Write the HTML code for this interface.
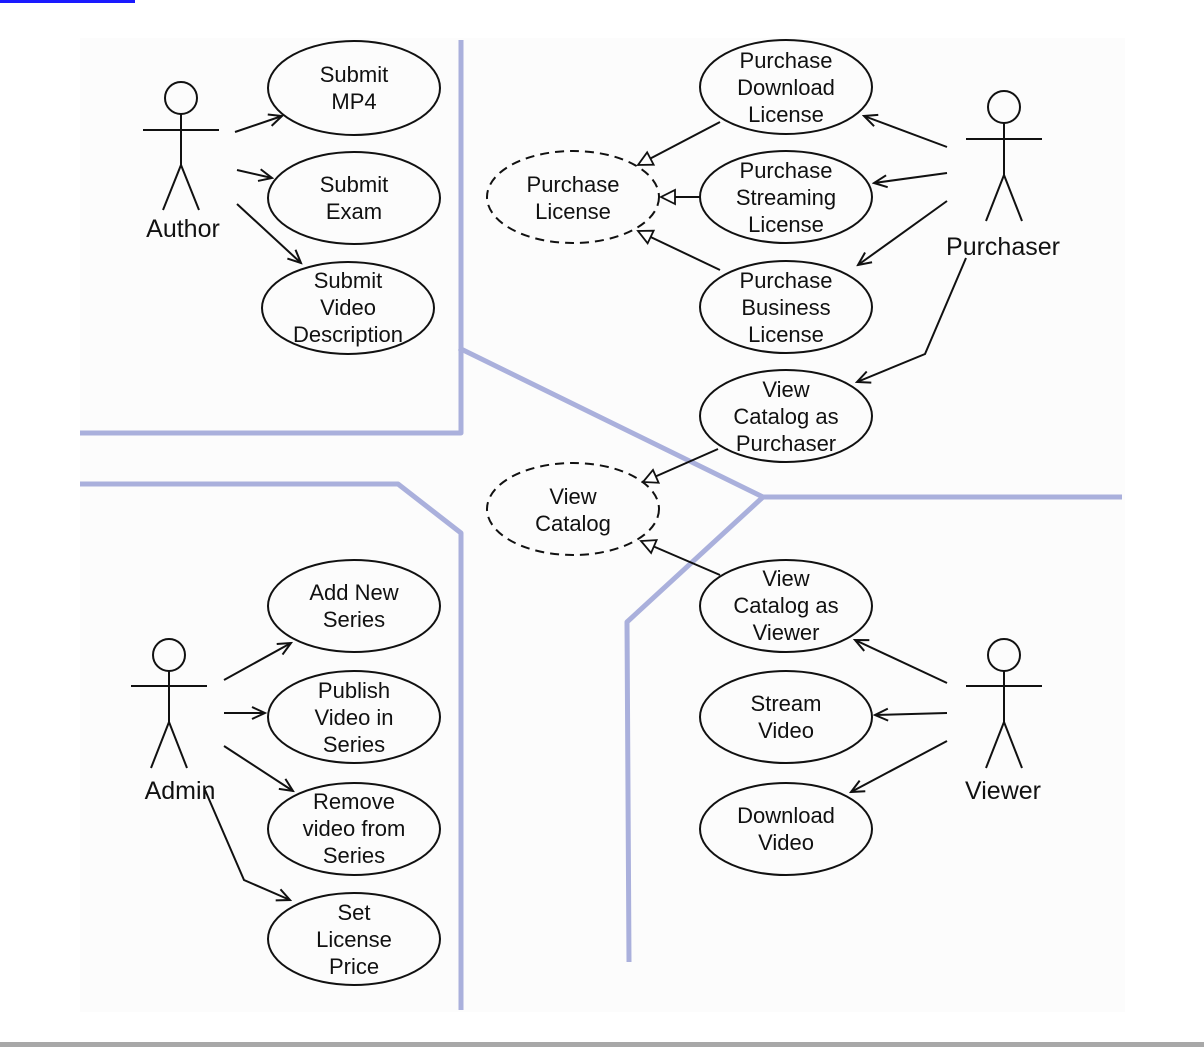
<!DOCTYPE html>
<html><head><meta charset="utf-8"><style>
html,body{margin:0;padding:0;background:#fff;width:1204px;height:1047px;overflow:hidden}
svg{position:absolute;left:0;top:0}
text{font-family:"Liberation Sans",Arial,sans-serif;font-size:22px;fill:#111;text-anchor:middle}
</style></head><body>
<svg width="1204" height="1047" viewBox="0 0 1204 1047">
<defs>
<marker id="o" markerWidth="16" markerHeight="16" refX="14" refY="8" orient="auto" markerUnits="userSpaceOnUse"><path d="M1,2 L14,8 L1,14" fill="none" stroke="#111" stroke-width="2"/></marker>
<marker id="t" markerWidth="18" markerHeight="18" refX="16" refY="9" orient="auto" markerUnits="userSpaceOnUse"><path d="M2,2 L16,9 L2,16 Z" fill="#fff" stroke="#111" stroke-width="1.8"/></marker>
</defs>
<rect x="0" y="0" width="135" height="3" fill="#1a1aff"/>
<rect x="80" y="38" width="1045" height="974" fill="#fcfcfc"/>
<rect x="0" y="1042" width="1204" height="5" fill="#a8a8a8"/>
<g stroke="#aab0dc" stroke-width="5" fill="none" stroke-linejoin="round">
<polyline points="461,40 461,433 80,433"/>
<polyline points="459,348 763,497 1122,497"/>
<polyline points="763,497 627,622 629,962"/>
<polyline points="80,484 398,484 461,533 461,1010"/>
</g>
<g fill="none" stroke="#111" stroke-width="2">
<ellipse cx="354" cy="88" rx="86" ry="47"/>
<ellipse cx="354" cy="198" rx="86" ry="46"/>
<ellipse cx="348" cy="308" rx="86" ry="46"/>
<ellipse cx="786" cy="87" rx="86" ry="47"/>
<ellipse cx="786" cy="197" rx="86" ry="46"/>
<ellipse cx="786" cy="307" rx="86" ry="46"/>
<ellipse cx="786" cy="416" rx="86" ry="46"/>
<ellipse cx="786" cy="606" rx="86" ry="46"/>
<ellipse cx="786" cy="717" rx="86" ry="46"/>
<ellipse cx="786" cy="829" rx="86" ry="46"/>
<ellipse cx="354" cy="606" rx="86" ry="46"/>
<ellipse cx="354" cy="717" rx="86" ry="46"/>
<ellipse cx="354" cy="829" rx="86" ry="46"/>
<ellipse cx="354" cy="939" rx="86" ry="46"/>
<ellipse cx="573" cy="197" rx="86" ry="46" stroke-dasharray="9,6"/>
<ellipse cx="573" cy="509" rx="86" ry="46" stroke-dasharray="9,6"/>
<!-- actors -->
<circle cx="181" cy="98" r="16"/><line x1="143" y1="130" x2="219" y2="130"/><line x1="181" y1="114" x2="181" y2="165"/><polyline points="163,210 181,165 199,210"/>
<circle cx="1004" cy="107" r="16"/><line x1="966" y1="139" x2="1042" y2="139"/><line x1="1004" y1="123" x2="1004" y2="175"/><polyline points="986,221 1004,175 1022,221"/>
<circle cx="169" cy="655" r="16"/><line x1="131" y1="686" x2="207" y2="686"/><line x1="169" y1="671" x2="169" y2="722"/><polyline points="151,768 169,722 187,768"/>
<circle cx="1004" cy="655" r="16"/><line x1="966" y1="686" x2="1042" y2="686"/><line x1="1004" y1="671" x2="1004" y2="722"/><polyline points="986,768 1004,722 1022,768"/>
<!-- associations -->
<line x1="235" y1="132" x2="282" y2="116" marker-end="url(#o)"/>
<line x1="237" y1="170" x2="272" y2="178" marker-end="url(#o)"/>
<line x1="237" y1="204" x2="301" y2="263" marker-end="url(#o)"/>
<line x1="947" y1="147" x2="864" y2="116" marker-end="url(#o)"/>
<line x1="947" y1="173" x2="874" y2="183" marker-end="url(#o)"/>
<line x1="947" y1="201" x2="858" y2="265" marker-end="url(#o)"/>
<polyline points="966,258 925,354 857,382" marker-end="url(#o)"/>
<line x1="224" y1="680" x2="291" y2="643" marker-end="url(#o)"/>
<line x1="224" y1="713" x2="265" y2="713" marker-end="url(#o)"/>
<line x1="224" y1="746" x2="293" y2="791" marker-end="url(#o)"/>
<polyline points="205,790 244,880 290,900" marker-end="url(#o)"/>
<line x1="947" y1="683" x2="855" y2="640" marker-end="url(#o)"/>
<line x1="947" y1="713" x2="875" y2="715" marker-end="url(#o)"/>
<line x1="947" y1="741" x2="851" y2="792" marker-end="url(#o)"/>
<!-- generalizations -->
<line x1="720" y1="122" x2="638" y2="165" marker-end="url(#t)"/>
<line x1="700" y1="197" x2="661" y2="197" marker-end="url(#t)"/>
<line x1="720" y1="270" x2="638" y2="231" marker-end="url(#t)"/>
<line x1="718" y1="449" x2="643" y2="482" marker-end="url(#t)"/>
<line x1="720" y1="575" x2="641" y2="541" marker-end="url(#t)"/>
</g>
<g>
<text x="354" y="82">Submit</text><text x="354" y="109">MP4</text>
<text x="354" y="192">Submit</text><text x="354" y="219">Exam</text>
<text x="348" y="288">Submit</text><text x="348" y="315">Video</text><text x="348" y="342">Description</text>
<text x="786" y="68">Purchase</text><text x="786" y="95">Download</text><text x="786" y="122">License</text>
<text x="786" y="178">Purchase</text><text x="786" y="205">Streaming</text><text x="786" y="232">License</text>
<text x="786" y="288">Purchase</text><text x="786" y="315">Business</text><text x="786" y="342">License</text>
<text x="786" y="397">View</text><text x="786" y="424">Catalog as</text><text x="786" y="451">Purchaser</text>
<text x="573" y="192">Purchase</text><text x="573" y="219">License</text>
<text x="573" y="504">View</text><text x="573" y="531">Catalog</text>
<text x="786" y="586">View</text><text x="786" y="613">Catalog as</text><text x="786" y="640">Viewer</text>
<text x="786" y="711">Stream</text><text x="786" y="738">Video</text>
<text x="786" y="823">Download</text><text x="786" y="850">Video</text>
<text x="354" y="600">Add New</text><text x="354" y="627">Series</text>
<text x="354" y="698">Publish</text><text x="354" y="725">Video in</text><text x="354" y="752">Series</text>
<text x="354" y="809">Remove</text><text x="354" y="836">video from</text><text x="354" y="863">Series</text>
<text x="354" y="920">Set</text><text x="354" y="947">License</text><text x="354" y="974">Price</text>
<text x="183" y="237" style="font-size:25px">Author</text>
<text x="1003" y="255" style="font-size:25px">Purchaser</text>
<text x="180" y="799" style="font-size:25px">Admin</text>
<text x="1003" y="799" style="font-size:25px">Viewer</text>
</g>
</svg>
</body></html>
